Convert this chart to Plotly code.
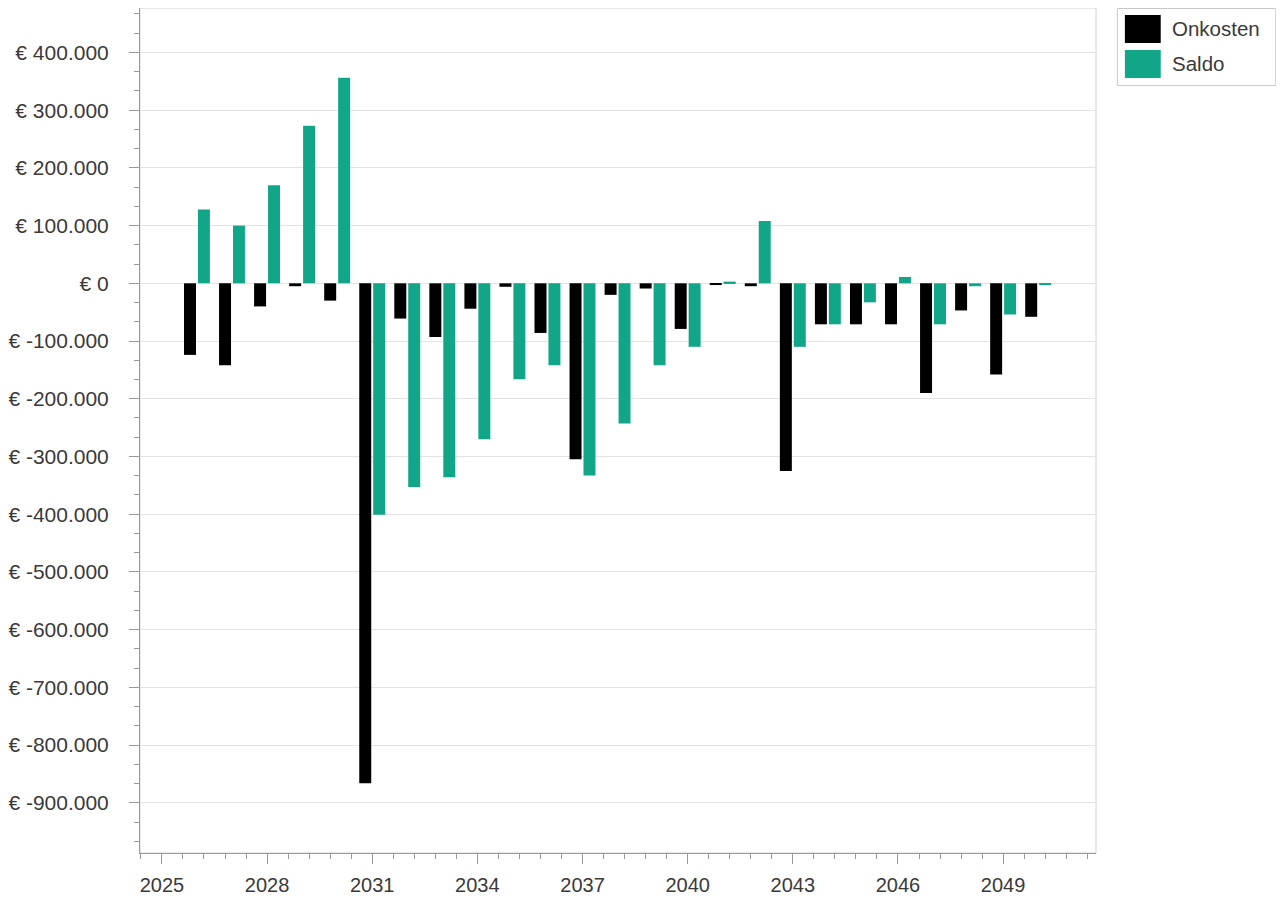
import plotly.graph_objects as go

years = list(range(2026, 2051))
onkosten = [-124000, -142000, -40000, -5000, -30000, -866000, -61000, -93000, -44000, -6000,
            -86000, -305000, -20000, -9000, -79000, -3000, -5000, -325000, -71000, -71000,
            -71000, -190000, -47000, -158000, -58000]
saldo = [128000, 100000, 170000, 273000, 356000, -401000, -353000, -336000, -270000, -166000,
         -142000, -333000, -243000, -142000, -110000, 3000, 108000, -110000, -71000, -33000,
         11000, -71000, -5000, -54000, -2000]

series_names = ["Onkosten", "Saldo"]
series_colors = ["#000000", "#12a689"]

y_tick_values = list(range(400000, -1000000, -100000))
y_tick_labels = ["€ " + f"{v:,}".replace(",", ".") for v in y_tick_values]
x_tick_values = list(range(2025, 2050, 3))

FONT = "Liberation Sans, Arial, sans-serif"
TXT = "#3a3a3a"

fig = go.Figure()
for name, vals, col in zip(series_names, [onkosten, saldo], series_colors):
    fig.add_trace(go.Bar(x=years, y=vals, name=name, marker=dict(color=col, line=dict(width=0)),
                         showlegend=False))

# page has an 8px body margin; figure starts at (8, 8)
fig.update_layout(
    width=1276, height=892,
    margin=dict(l=128, r=188, t=0, b=47),
    paper_bgcolor="white", plot_bgcolor="white",
    barmode="group", bargap=0.205, bargroupgap=0.14,
    font=dict(family=FONT, size=20, color=TXT),
    showlegend=False,
)

fig.update_xaxes(
    range=[2024.375, 2051.65],
    tickvals=x_tick_values, ticktext=[str(v) for v in x_tick_values],
    showgrid=False, zeroline=False,
    showline=True, linecolor="#9a9a9a", linewidth=1,
    ticks="outside", ticklen=10, tickcolor="#9a9a9a", tickwidth=1,
    ticklabelstandoff=4,
    tickfont=dict(family=FONT, size=20, color=TXT),
    minor=dict(dtick=0.6, tick0=2025, ticks="outside", ticklen=5, tickcolor="#9a9a9a", showgrid=False),
)
fig.update_yaxes(
    range=[-987000, 477000],
    tickvals=y_tick_values, ticktext=y_tick_labels,
    showgrid=True, gridcolor="#e3e3e3", gridwidth=1,
    zeroline=False,
    showline=True, linecolor="#9a9a9a", linewidth=1,
    ticks="outside", ticklen=10, tickcolor="#9a9a9a", tickwidth=1,
    ticklabelstandoff=16,
    tickfont=dict(family=FONT, size=21, color=TXT),
    minor=dict(dtick=100000 / 3, tick0=0, ticks="outside", ticklen=5, tickcolor="#9a9a9a", showgrid=False),
)

# plot frame (top/right light border)
fig.add_shape(type="rect", xref="paper", yref="paper", x0=0, x1=1, y0=0, y1=1,
              line=dict(color="#d2d2d2", width=1), layer="below")

# custom legend with large swatches (page pixel positions -> paper coords)
pw, ph = 960.0, 845.0
def px_x(px):
    return (px - 136) / pw
def px_y(py):
    return (853 - py) / ph

fig.add_shape(type="rect", xref="paper", yref="paper",
              x0=px_x(1117.5), x1=px_x(1276.5), y0=px_y(85.5), y1=px_y(8.5),
              line=dict(color="#c8c8c8", width=1), fillcolor="white")
for i, (name, col) in enumerate(zip(series_names, series_colors)):
    top = 15 + i * 35
    fig.add_shape(type="rect", xref="paper", yref="paper",
                  x0=px_x(1125), x1=px_x(1161), y0=px_y(top + 28), y1=px_y(top),
                  line=dict(width=0), fillcolor=col)
    fig.add_annotation(xref="paper", yref="paper", x=px_x(1170), y=px_y(top + 14),
                       text=name, showarrow=False, xanchor="left", yanchor="middle",
                       font=dict(family=FONT, size=20.5, color=TXT))

fig.write_html("out.html")
